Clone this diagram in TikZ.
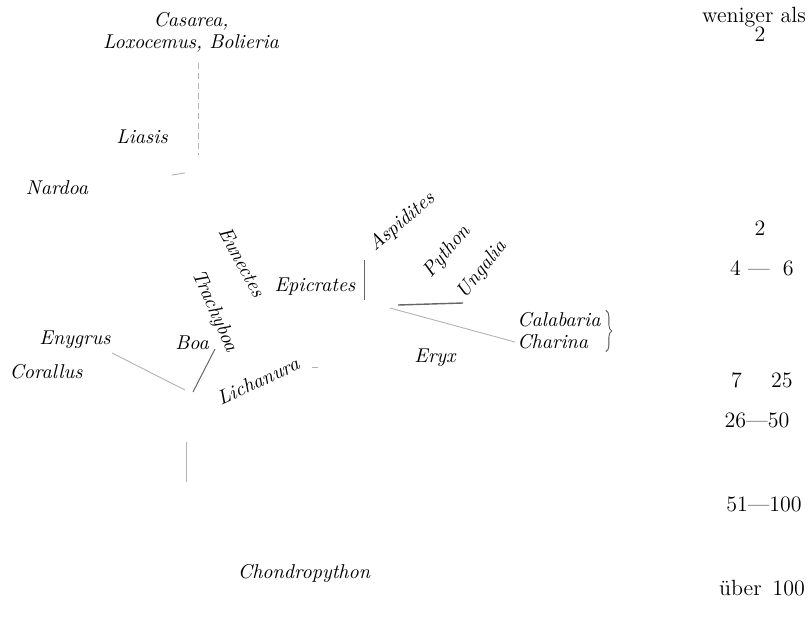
\documentclass[tikz,border=0pt]{standalone}
\usepackage{tikz}
\usetikzlibrary{decorations.pathreplacing}

\begin{document}
\begin{tikzpicture}[x=0.5pt, y=-0.5pt,
  taxon/.style={font=\itshape, inner sep=1pt},
  count/.style={font=\fontsize{11}{13}\selectfont, inner sep=1pt},
  branch/.style={black!60, line width=0.5pt},
  faint/.style={black!30, line width=0.45pt}]
\useasboundingbox (0,0) rectangle (811,622);

% --- Taxa ---
\node[taxon, align=center] (casarea) at (191,32) {Casarea,\\[-1pt]Loxocemus, Bolieria};
\node[taxon] (liasis) at (142,137) {Liasis};
\node[taxon] (nardoa) at (57,188) {Nardoa};
\node[taxon, rotate=-62] (eunectes) at (242,262) {Eunectes};
\node[taxon, rotate=-66] (trachyboa) at (214,311) {Trachyboa};
\node[taxon] (epicrates) at (315,287) {Epicrates};
\node[taxon, rotate=40] (aspidites) at (402,222) {Aspidites};
\node[taxon, rotate=50] (python) at (447,252) {Python};
\node[taxon, rotate=51] (ungalia) at (482,270) {Ungalia};
\node[taxon] (enygrus) at (75,340) {Enygrus};
\node[taxon] (corallus) at (46,372) {Corallus};
\node[taxon] (boa) at (192,343) {Boa};
\node[taxon, rotate=25] (lichanura) at (258,381) {Lichanura};
\node[taxon] (eryx) at (435,358) {Eryx};
\node[taxon, anchor=west] (calabaria) at (515,320) {Calabaria};
\node[taxon, anchor=west] (charina) at (515,342) {Charina};
\node[taxon] (chondropython) at (304,573) {Chondropython};

% --- Branches ---
\coordinate (stemTop) at (198,63);
\coordinate (stemFoot) at (198,155);
\draw[faint, densely dashed] (stemTop) -- (stemFoot);
\coordinate (liasisMark) at (172,175);
\coordinate (liasisMarkEnd) at (185,173);
\draw[faint] (liasisMark) -- (liasisMarkEnd);

\coordinate (boaRoot) at (185,390);
\coordinate (enygrusEnd) at (112,353);
\coordinate (boaEnd) at (215,349);
\draw[faint] (enygrusEnd) -- (boaRoot);
\draw[branch] (boaEnd) -- (193,392);
\coordinate (rootTop) at (186,442);
\coordinate (rootFoot) at (186,482);
\draw[faint] (rootTop) -- (rootFoot);
\coordinate (lichMark) at (312,367);
\coordinate (lichMarkEnd) at (318,367);
\draw[faint] (lichMark) -- (lichMarkEnd);

\coordinate (epiTop) at (364,260);
\coordinate (epiFoot) at (364,300);
\draw[branch] (epiTop) -- (epiFoot);
\coordinate (pythonRoot) at (398,305);
\coordinate (ungaliaEnd) at (463,303);
\draw[branch, line width=0.7pt] (pythonRoot) -- (ungaliaEnd);
\coordinate (eryxRoot) at (390,308);
\draw[faint] (eryxRoot) -- (charina.west);

\coordinate (braceTop) at ([xshift=1.5pt]calabaria.north east);
\coordinate (braceFoot) at (braceTop |- charina.south);
\draw[black!70, decorate, decoration={brace, amplitude=3pt}]
  (braceTop) -- (braceFoot);

% --- Counts ---
\node[count] (weniger) at (754,17) {weniger als};
\node[count] (lt2) at (760,34) {2};
\node[count] (n2) at (760,228) {2};
\node[count] (n4) at (762,268) {4 ---\; 6};
\node[count] (n7) at (762,380) {7 \quad 25};
\node[count] (n26) at (757,420) {26---50};
\node[count] (n51) at (764,504) {51---100};
\node[count] (n100) at (762,588) {über\, 100};
\end{tikzpicture}
\end{document}
